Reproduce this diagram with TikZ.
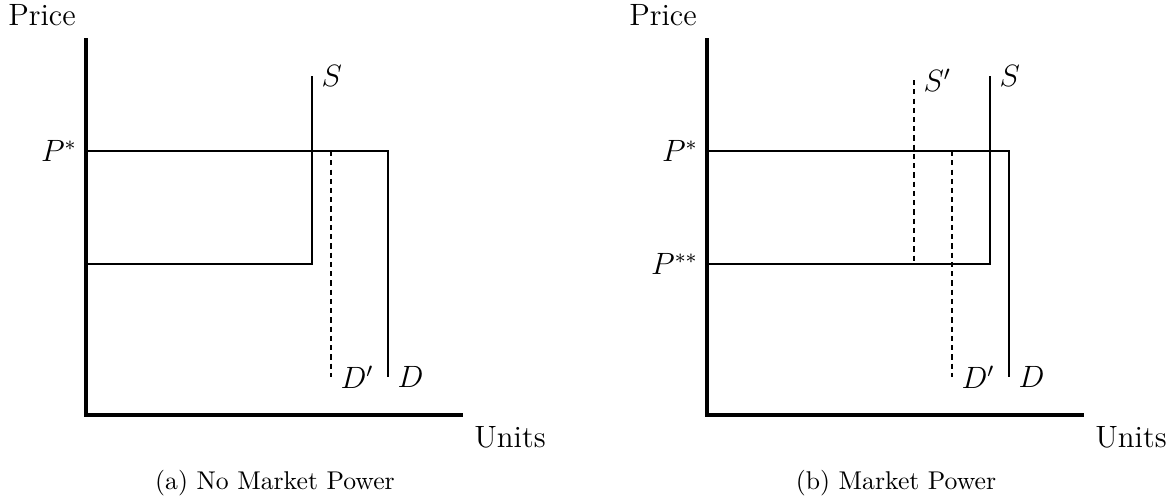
\documentclass[tikz,border=0pt]{standalone}
\usetikzlibrary{positioning}

\tikzset{
  every node/.append style={font=\fontsize{12}{14.4}\selectfont},
  caption/.style={font=\fontsize{10}{12}\selectfont},
  axisline/.style={line width=1.6pt},
  curveline/.style={thick},
  shiftline/.style={thick, dash pattern=on 2pt off 1.6pt},
}

\begin{document}
\begin{tikzpicture}[x=0.3893pt, y=0.3893pt]
  \useasboundingbox (-86,-88) rectangle (1087,415);

  % Define sizes
  \def\len{377}
  \def\pstar{264}
  \def\pss{151}

  % (a) No Market Power
  \coordinate (aorig) at (0,0);
  \coordinate (atop) at (0,\len);
  \coordinate (aend) at (\len,0);
  \draw[axisline] (atop) -- (aorig) -- (aend);
  \node (aprice) at (-44,400) {Price};
  \node (aunits) at (424,-22) {Units};
  \node[left] (apstar) at (0,\pstar) {$P^{*}$};

  % Supply
  \coordinate (aS1) at (226,339);
  \coordinate (aS2) at (226,\pss);
  \coordinate (aS3) at (0,\pss);
  \draw[curveline] (aS1) node[right] (aS) {$S$} -- (aS2) -- (aS3);

  % Demand
  \coordinate (aD1) at (0,\pstar);
  \coordinate (aD2) at (302,\pstar);
  \coordinate (aD3) at (302,38);
  \draw[curveline] (aD1) -- (aD2) -- (aD3) node[right] (aD) {$D$};
  \coordinate (aDp1) at (245,\pstar);
  \coordinate (aDp2) at (245,38);
  \draw[shiftline] (aDp1) -- (aDp2) node[right] (aDp) {$D'$};

  \node[caption] (acap) at (189,-68) {(a) No Market Power};

  % (b) Market Power
  \begin{scope}[shift={(621,0)}]
    \coordinate (borig) at (0,0);
    \coordinate (btop) at (0,\len);
    \coordinate (bend) at (\len,0);
    \draw[axisline] (btop) -- (borig) -- (bend);
    \node (bprice) at (-44,400) {Price};
    \node (bunits) at (424,-22) {Units};
    \node[left] (bpstar) at (0,\pstar) {$P^{*}$};
    \node[left] (bpss) at (0,\pss) {$P^{**}$};

    % Supply
    \coordinate (bS1) at (283,339);
    \coordinate (bS2) at (283,\pss);
    \coordinate (bS3) at (0,\pss);
    \draw[curveline] (bS1) node[right] (bS) {$S$} -- (bS2) -- (bS3);
    \coordinate (bSp1) at (207,335);
    \coordinate (bSp2) at (207,\pss);
    \draw[shiftline] (bSp1) node[right] (bSp) {$S'$} -- (bSp2);

    % Demand
    \coordinate (bD1) at (0,\pstar);
    \coordinate (bD2) at (302,\pstar);
    \coordinate (bD3) at (302,38);
    \draw[curveline] (bD1) -- (bD2) -- (bD3) node[right] (bD) {$D$};
    \coordinate (bDp1) at (245,\pstar);
    \coordinate (bDp2) at (245,38);
    \draw[shiftline] (bDp1) -- (bDp2) node[right] (bDp) {$D'$};

    \node[caption] (bcap) at (189,-68) {(b) Market Power};
  \end{scope}

\end{tikzpicture}
\end{document}
